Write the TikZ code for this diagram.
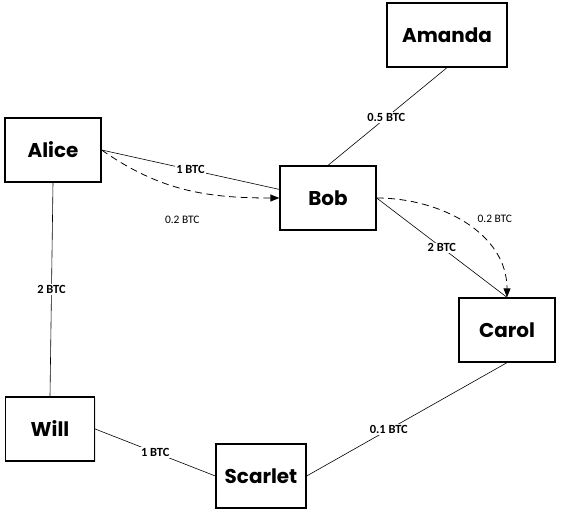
\documentclass[tikz,border=0pt]{standalone}
\usepackage{fontspec}
\setmainfont{Carlito}
\newfontfamily\namefont{Poppins}
\usepackage{tikz}
\usetikzlibrary{shapes,arrows.meta,shadows}
\tikzstyle{person}=[rectangle, draw=black, line width=1.3pt, fill=white,
  drop shadow={opacity=0.2, shadow xshift=1.2pt, shadow yshift=-1.2pt},
  minimum height=64bp, text centered, font=\namefont\bfseries\fontsize{20}{22}\selectfont]
\tikzstyle{amount}=[fill=white, inner sep=1pt, font=\bfseries\fontsize{12.5}{14}\selectfont]
\tikzstyle{note}=[inner sep=1pt, font=\fontsize{11.5}{13}\selectfont]
\tikzstyle{link}=[draw, line width=0.6pt]
\tikzstyle{pay}=[draw, line width=0.8pt, dash pattern=on 7pt off 4.5pt, -{Triangle[length=9pt,width=7pt]}]

\begin{document}
\begin{tikzpicture}[x=1bp, y=-1bp]
\useasboundingbox (0,0) rectangle (561,517);
\node [person, minimum width=96bp] (alice) at (53,150) {Alice};
\node [person, minimum width=96bp] (bob) at (328,198) {Bob};
\node [person, minimum width=120bp] (amanda) at (447,35) {Amanda};
\node [person, minimum width=96bp] (carol) at (507,330) {Carol};
\node [person, minimum width=89bp] (will) at (50,429) {Will};
\node [person, minimum width=90bp] (scarlet) at (261,476) {Scarlet};

\path [link] (alice.east) -- node[amount] {1 BTC} (bob.170);
\path [link] (alice.south) -- node[amount] {2 BTC} (will.north);
\path [link] (amanda.south) -- node[amount, pos=0.51] {0.5 BTC} (bob.north);
\path [link] (bob.east) -- node[amount] {2 BTC} (carol.north);
\path [link] (carol.south) -- node[amount, pos=0.59] {0.1 BTC} (scarlet.east);
\path [link] (will.east) -- node[amount] {1 BTC} (scarlet.west);

\path [pay] (alice.east) to[out=-35, in=180] node[note, pos=0.48, below=26pt] {0.2 BTC} (bob.west);
\path [pay] (bob.east) to[out=0, in=90] node[note, pos=0.45, right=18pt] {0.2 BTC} (carol.north);
\end{tikzpicture}
\end{document}
